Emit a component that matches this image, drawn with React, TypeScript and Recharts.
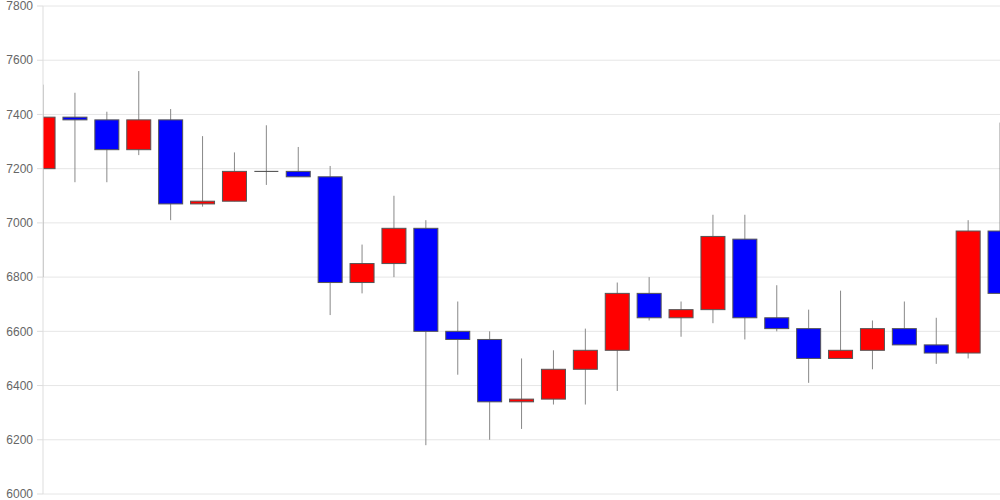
import React from "react";
import { ComposedChart, Bar, XAxis, YAxis, CartesianGrid } from "recharts";

const opens = [7200, 7390, 7380, 7270, 7380, 7070, 7080, 7190, 7190, 7170, 6780, 6850, 6980, 6600, 6570, 6340, 6350, 6460, 6530, 6740, 6650, 6680, 6940, 6650, 6610, 6500, 6530, 6610, 6550, 6520, 6970];
const closes = [7390, 7380, 7270, 7380, 7070, 7080, 7190, 7190, 7170, 6780, 6850, 6980, 6600, 6570, 6340, 6350, 6460, 6530, 6740, 6650, 6680, 6950, 6650, 6610, 6500, 6530, 6610, 6550, 6520, 6970, 6740];
const highs = [7510, 7480, 7410, 7560, 7420, 7320, 7260, 7360, 7280, 7210, 6920, 7100, 7010, 6710, 6600, 6500, 6530, 6610, 6780, 6800, 6710, 7030, 7030, 6770, 6680, 6750, 6640, 6710, 6650, 7010, 7370];
const lows = [6800, 7150, 7150, 7250, 7010, 7060, 7080, 7140, 7170, 6660, 6740, 6800, 6180, 6440, 6200, 6240, 6330, 6330, 6380, 6640, 6580, 6630, 6570, 6600, 6410, 6500, 6460, 6550, 6480, 6500, 6740];
const yTicks = [6000, 6200, 6400, 6600, 6800, 7000, 7200, 7400, 7600, 7800];

const data = opens.map((o, i) => ({
  idx: i,
  open: o,
  close: closes[i],
  high: highs[i],
  low: lows[i],
  range: [lows[i], highs[i]],
}));

const Candle = (props: any) => {
  const { x, y, width, height, payload } = props;
  if (x == null || y == null) return null;
  const { open, close, high, low } = payload;
  const top = Math.min(y, y + height);
  const h = Math.abs(height);
  const py = (v: number) => top + ((high - v) / (high - low)) * h;
  const cx = x + width / 2;
  const bTop = py(Math.max(open, close));
  const bBot = py(Math.min(open, close));
  const color = close > open ? "#ff0000" : close < open ? "#0000ff" : "#444444";
  return (
    <g>
      <line x1={cx} x2={cx} y1={py(high)} y2={py(low)} stroke="#888888" strokeWidth={1} />
      {close === open ? (
        <line x1={x} x2={x + width} y1={bTop} y2={bTop} stroke="#444444" strokeWidth={1} />
      ) : (
        <rect x={x} y={bTop} width={width} height={Math.max(bBot - bTop, 1)} fill={color} stroke="#555555" strokeWidth={1} />
      )}
    </g>
  );
};

export default function App() {
  return (
    <div style={{ position: "absolute", left: 0, top: 0, width: 1000, height: 500, background: "#fff" }}>
      <ComposedChart width={1000} height={500} data={data} margin={{ top: 6, right: 0, bottom: 6, left: 0 }}>
        <CartesianGrid vertical={false} stroke="#e6e6e6" />
        <XAxis dataKey="idx" type="number" domain={[0, 30]} hide allowDataOverflow />
        <YAxis
          domain={[6000, 7800]}
          ticks={yTicks}
          interval={0}
          width={43}
          allowDataOverflow
          axisLine={{ stroke: "#dddddd" }}
          tickLine={{ stroke: "#dddddd" }}
          tickSize={6}
          tickMargin={4}
          tick={{ fill: "#666666", fontSize: 12, fontFamily: "Liberation Sans, Arial, sans-serif" }}
        />
        <Bar dataKey="range" barSize={24} shape={<Candle />} isAnimationActive={false} />
      </ComposedChart>
    </div>
  );
}
